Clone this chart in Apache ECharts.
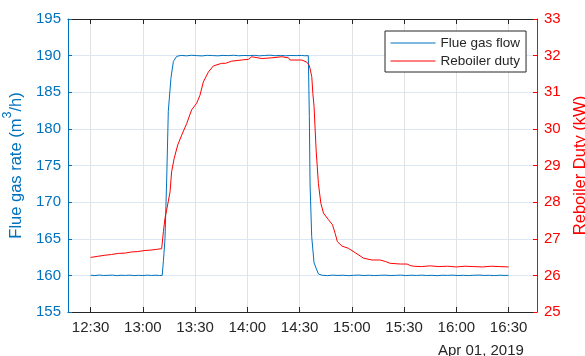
<!DOCTYPE html>
<html>
<head>
<meta charset="utf-8">
<script src="https://cdn.jsdelivr.net/npm/echarts@6/dist/echarts.min.js"></script>
<style>
  html, body { margin: 0; padding: 0; background: #fff; }
  #chart { width: 585px; height: 356px; }
</style>
</head>
<body>
<div id="chart"></div>
<script>
// Flue gas flow (m3/h), sampled on Apr 01, 2019
const flueGasTimes = [
  '12:30:00','12:32:30','12:35:00','12:37:30','12:40:00','12:42:30','12:45:00','12:47:30',
  '12:50:00','12:52:30','12:55:00','12:57:30','13:00:00','13:02:30','13:05:00','13:07:30',
  '13:09:30','13:11:06','13:11:48','13:12:42','13:13:42','13:14:36','13:16:06','13:17:30',
  '13:19:24','13:22:00','13:25:00','13:28:00','13:31:00','13:34:00','13:37:00','13:40:00',
  '13:43:00','13:46:00','13:49:00','13:52:00','13:55:00','13:58:00','14:01:00','14:04:00',
  '14:07:00','14:10:00','14:13:00','14:16:00','14:19:00','14:22:00','14:25:00','14:28:00',
  '14:31:00','14:33:00','14:35:00','14:35:36','14:36:00','14:36:57','14:38:18','14:40:48',
  '14:43:00','14:46:00','14:49:00','14:52:00','14:55:00','14:58:00','15:01:00','15:04:00',
  '15:07:00','15:10:00','15:13:00','15:16:00','15:19:00','15:22:00','15:25:00','15:28:00',
  '15:31:00','15:34:00','15:37:00','15:40:00','15:43:00','15:46:00','15:49:00','15:52:00',
  '15:55:00','15:58:00','16:01:00','16:04:00','16:07:00','16:10:00','16:13:00','16:16:00',
  '16:19:00','16:22:00','16:25:00','16:28:00','16:30:00'
];
const flueGasRate = [
  160.02,159.97,160.05,159.98,160.01,160.04,159.96,160.02,
  159.99,160.03,159.97,160.01,159.98,160.03,159.99,160.02,
  159.98,160.00,162.0,165.0,173.3,182.4,186.9,189.2,
  189.9,190.03,189.97,190.05,190.00,189.96,190.04,190.01,
  189.97,190.03,190.00,190.05,189.98,190.02,190.00,190.04,
  189.97,190.02,190.06,189.99,190.03,189.98,190.02,190.00,
  190.03,189.98,190.00,181.7,172.6,165.3,161.7,160.2,
  160.01,159.97,160.03,159.99,160.02,159.96,160.01,160.04,
  159.98,160.02,159.97,160.01,160.03,159.98,160.00,160.04,
  159.97,160.02,159.99,160.03,159.98,160.01,159.96,160.02,
  160.00,160.03,159.98,160.01,159.97,160.02,160.04,159.99,
  160.01,159.97,160.02,159.99,160.01
];

// Reboiler duty (kW)
const dutyTimes = [
  '12:30:00','12:34:00','12:38:12','12:42:00','12:45:54','12:50:00','12:53:36','12:57:00',
  '13:01:12','13:04:30','13:07:54','13:10:48','13:11:12','13:11:48','13:12:42','13:14:12',
  '13:15:36','13:16:30','13:18:00','13:20:00','13:22:18','13:25:12','13:28:00','13:30:54',
  '13:32:48','13:34:42','13:37:36','13:40:30','13:45:18','13:47:30','13:51:00','13:56:36',
  '14:00:36','14:02:30','14:08:18','14:14:00','14:19:48','14:23:36','14:24:36','14:31:18',
  '14:34:12','14:35:36','14:37:00','14:37:36','14:38:18','14:39:30','14:40:48','14:42:12',
  '14:43:42','14:46:36','14:48:54','14:50:24','14:51:42','14:54:18','14:58:00','15:01:54',
  '15:06:42','15:11:30','15:16:18','15:19:12','15:22:00','15:27:48','15:31:42','15:33:30',
  '15:35:24','15:40:00','15:45:00','15:50:00','15:55:00','16:00:00','16:05:00','16:10:00',
  '16:15:00','16:20:00','16:25:00','16:30:00'
];
const reboilerDuty = [
  26.49,26.52,26.55,26.57,26.60,26.61,26.64,26.65,
  26.68,26.69,26.71,26.73,26.75,27.20,27.56,27.92,
  28.28,28.83,29.20,29.56,29.83,30.15,30.52,30.70,
  30.92,31.28,31.55,31.72,31.79,31.79,31.85,31.88,
  31.90,31.97,31.92,31.94,31.97,31.94,31.88,31.88,
  31.82,31.73,31.42,30.97,30.61,29.42,28.51,27.97,
  27.70,27.52,27.38,27.15,26.92,26.80,26.74,26.62,
  26.47,26.42,26.42,26.38,26.33,26.31,26.31,26.27,
  26.25,26.24,26.26,26.24,26.25,26.23,26.25,26.24,
  26.23,26.25,26.24,26.23
];

// Axis ticks
const timeTicks = ['12:30','13:00','13:30','14:00','14:30','15:00','15:30','16:00','16:30'];
const leftTicks = [155, 195, 5];   // min, max, step
const rightTicks = [25, 33, 1];
const dateText = 'Apr 01, 2019';

const FONT = '"Liberation Sans", Arial, Helvetica, sans-serif';
const BLUE = '#0072BD';
const RED = '#FF0000';
const INK = '#262626';

function ts(hms) {
  const p = hms.split(':').map(Number);
  return Date.UTC(2019, 3, 1, p[0], p[1], p[2] || 0);
}
const pad = n => (n < 10 ? '0' : '') + n;
const tickValues = timeTicks.map(ts);
const tickText = v => {
  const d = new Date(v);
  return pad(d.getUTCHours()) + ':' + pad(d.getUTCMinutes());
};

const chart = echarts.init(document.getElementById('chart'), null, { renderer: 'canvas' });

const xCommon = {
  type: 'value',
  min: ts('12:17:00'),
  max: ts('16:46:20')
};

chart.setOption({
  animation: false,
  backgroundColor: '#fff',
  textStyle: { fontFamily: FONT },
  grid: { left: 68, right: 48, top: 19, bottom: 44, containLabel: false, outerBoundsMode: 'none' },
  legend: {
    data: ['Flue gas flow', 'Reboiler duty'],
    orient: 'vertical',
    left: 385,
    top: 31,
    itemWidth: 45,
    itemHeight: 14,
    itemGap: 4,
    padding: [5, 6, 4, 5],
    itemStyle: { opacity: 0 },
    lineStyle: { width: 1 },
    backgroundColor: '#fff',
    borderColor: INK,
    borderWidth: 1,
    borderRadius: 0,
    textStyle: { fontSize: 13.5, color: INK, fontFamily: FONT }
  },
  xAxis: [
    Object.assign({}, xCommon, {
      position: 'bottom',
      axisLine: { lineStyle: { color: INK, width: 1 } },
      axisTick: { inside: true, length: 5, lineStyle: { color: INK }, customValues: tickValues },
      axisLabel: {
        color: INK, fontSize: 15, margin: 8, fontFamily: FONT,
        customValues: tickValues,
        formatter: tickText
      },
      splitLine: { show: true, lineStyle: { color: '#e2e2e2', width: 1 } }
    }),
    Object.assign({}, xCommon, {
      position: 'top',
      axisLine: { lineStyle: { color: INK, width: 1 } },
      axisTick: { inside: true, length: 5, lineStyle: { color: INK }, customValues: tickValues },
      axisLabel: { show: false },
      splitLine: { show: false }
    })
  ],
  yAxis: [
    {
      type: 'value',
      position: 'left',
      min: leftTicks[0], max: leftTicks[1], interval: leftTicks[2],
      name: '{t|Flue gas rate (m}{sup|3}{t|/h)}',
      nameLocation: 'middle',
      nameRotate: 90,
      nameGap: 30,
      nameTextStyle: {
        color: BLUE, fontSize: 16.5, fontFamily: FONT,
        rich: {
          t: { fontSize: 16.5, color: BLUE, fontFamily: FONT, lineHeight: 24, verticalAlign: 'bottom' },
          sup: { fontSize: 12.5, color: BLUE, fontFamily: FONT, lineHeight: 14, verticalAlign: 'top' }
        }
      },
      axisLine: { show: true, lineStyle: { color: BLUE, width: 1 } },
      axisTick: { show: true, inside: true, length: 4, lineStyle: { color: BLUE } },
      axisLabel: { color: BLUE, fontSize: 15, margin: 7, fontFamily: FONT },
      splitLine: { show: true, lineStyle: { color: '#dbe8f4', width: 1 } }
    },
    {
      type: 'value',
      position: 'right',
      min: rightTicks[0], max: rightTicks[1], interval: rightTicks[2],
      name: 'Reboiler Duty (kW)',
      nameLocation: 'middle',
      nameRotate: 90,
      nameGap: 31,
      nameTextStyle: { color: RED, fontSize: 16.5, fontFamily: FONT },
      axisLine: { show: true, lineStyle: { color: RED, width: 1 } },
      axisTick: { show: true, inside: true, length: 4, lineStyle: { color: RED } },
      axisLabel: { color: RED, fontSize: 15, margin: 7, fontFamily: FONT },
      splitLine: { show: false }
    }
  ],
  series: [
    {
      name: 'Flue gas flow',
      type: 'line',
      xAxisIndex: 0,
      yAxisIndex: 0,
      symbol: 'none',
      lineStyle: { color: BLUE, width: 1 },
      itemStyle: { color: BLUE },
      data: flueGasTimes.map((t, i) => [ts(t), flueGasRate[i]])
    },
    {
      name: 'Reboiler duty',
      type: 'line',
      xAxisIndex: 0,
      yAxisIndex: 1,
      symbol: 'none',
      lineStyle: { color: RED, width: 1 },
      itemStyle: { color: RED },
      data: dutyTimes.map((t, i) => [ts(t), reboilerDuty[i]])
    }
  ],
  graphic: [
    {
      type: 'text',
      left: 438,
      top: 343,
      style: { text: dateText, fontSize: 15, fill: INK, font: '15px ' + FONT }
    }
  ]
});
</script>
</body>
</html>
